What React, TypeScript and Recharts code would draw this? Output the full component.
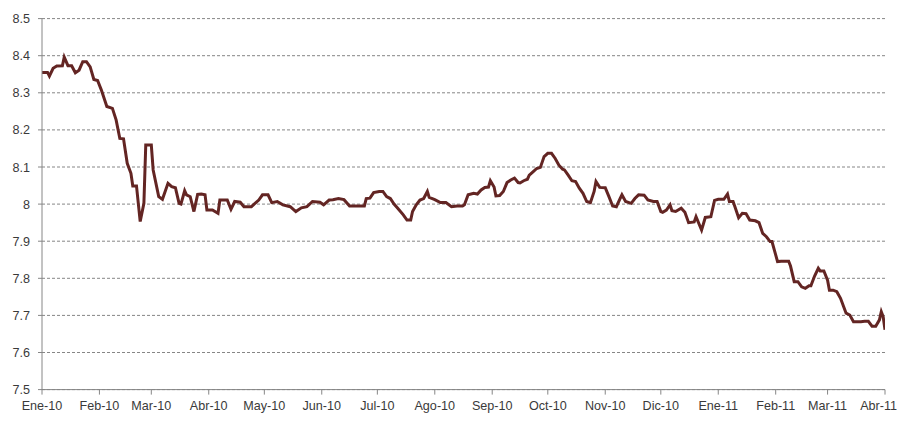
import { CartesianGrid, Line, LineChart, XAxis, YAxis } from "recharts";

// Month labels shown on the x axis (Spanish abbreviations, as in the source)
const monthLabels = [
  "Ene-10", "Feb-10", "Mar-10", "Abr-10", "May-10", "Jun-10", "Jul-10", "Ago-10",
  "Sep-10", "Oct-10", "Nov-10", "Dic-10", "Ene-11", "Feb-11", "Mar-11", "Abr-11",
];

// Days elapsed since 1 Jan 2010 for each observation
const days = [
  0, 3, 4, 6, 8, 11, 12, 14, 16, 18, 20, 22, 24, 26, 28, 30, 32, 35, 38, 40,
  42, 44, 46, 48, 49, 51, 53, 55, 56, 59, 60, 63, 65, 68, 70, 72, 74, 75, 77, 78,
  80, 82, 84, 86, 88, 89, 92, 95, 96, 100, 102, 104, 107, 109, 113, 117, 119, 122, 124, 127,
  130, 134, 137, 140, 143, 146, 150, 152, 155, 157, 160, 163, 166, 169, 174, 175, 177, 179, 182, 184,
  186, 188, 190, 192, 195, 197, 199, 200, 202, 204, 206, 208, 209, 212, 215, 218, 221, 224, 227, 228,
  230, 233, 235, 237, 239, 241, 242, 244, 245, 247, 249, 251, 253, 255, 257, 258, 260, 262, 263, 265,
  267, 269, 271, 273, 275, 277, 279, 281, 282, 284, 286, 288, 290, 292, 294, 296, 298, 299, 301, 304,
  306, 308, 310, 312, 313, 315, 318, 320, 322, 325, 327, 330, 332, 334, 335, 337, 339, 340, 342, 345,
  347, 349, 352, 353, 356, 358, 361, 363, 365, 368, 370, 371, 373, 374, 376, 378, 380, 382, 385, 387,
  389, 391, 393, 394, 396, 397, 399, 403, 404, 406, 408, 410, 412, 414, 415, 417, 419, 420, 422, 424,
  425, 427, 429, 431, 433, 434, 436, 438, 442, 444, 446, 448, 450, 452, 453, 454, 455,
];

// Observed values
const rates = [
  8.355, 8.355, 8.345, 8.366, 8.372, 8.373, 8.396, 8.373, 8.373, 8.354, 8.361, 8.384, 8.384, 8.37, 8.336, 8.333, 8.308, 8.263, 8.258, 8.227,
  8.177, 8.176, 8.11, 8.083, 8.049, 8.049, 7.953, 8.002, 8.159, 8.159, 8.092, 8.02, 8.013, 8.056, 8.047, 8.044, 8.002, 8.0, 8.036, 8.025,
  8.02, 7.98, 8.026, 8.027, 8.025, 7.984, 7.984, 7.975, 8.011, 8.011, 7.986, 8.007, 8.005, 7.993, 7.993, 8.011, 8.025, 8.025, 8.004, 8.007,
  7.998, 7.993, 7.98, 7.99, 7.993, 8.007, 8.005, 7.998, 8.011, 8.012, 8.015, 8.012, 7.995, 7.995, 7.995, 8.015, 8.016, 8.031, 8.034, 8.034,
  8.02, 8.015, 8.0, 7.989, 7.971, 7.957, 7.957, 7.98, 7.998, 8.011, 8.015, 8.034, 8.018, 8.012, 8.004, 8.004, 7.993, 7.995, 7.995, 7.998,
  8.025, 8.029, 8.027, 8.038, 8.045, 8.046, 8.063, 8.046, 8.022, 8.023, 8.034, 8.058, 8.065, 8.07, 8.058, 8.057, 8.063, 8.067, 8.078, 8.087,
  8.096, 8.099, 8.128, 8.137, 8.137, 8.123, 8.105, 8.094, 8.092, 8.078, 8.063, 8.061, 8.043, 8.029, 8.007, 8.004, 8.034, 8.061, 8.045, 8.044,
  8.02, 7.995, 7.993, 8.015, 8.025, 8.007, 8.002, 8.015, 8.025, 8.024, 8.011, 8.007, 8.007, 7.98, 7.978, 7.984, 7.998, 7.982, 7.98, 7.989,
  7.978, 7.95, 7.952, 7.966, 7.93, 7.964, 7.966, 8.01, 8.013, 8.013, 8.027, 8.007, 8.007, 7.993, 7.963, 7.975, 7.974, 7.957, 7.955, 7.95,
  7.921, 7.912, 7.899, 7.899, 7.863, 7.845, 7.846, 7.846, 7.833, 7.791, 7.791, 7.777, 7.773, 7.78, 7.78, 7.806, 7.827, 7.82, 7.82, 7.795,
  7.768, 7.768, 7.764, 7.746, 7.719, 7.706, 7.701, 7.683, 7.683, 7.684, 7.684, 7.671, 7.671, 7.688, 7.71, 7.697, 7.661,
];

const yTicks = [7.5, 7.6, 7.7, 7.8, 7.9, 8, 8.1, 8.2, 8.3, 8.4, 8.5];

// first day of every labelled month, as an offset from 1 Jan 2010
const DAY_MS = 86400000;
const monthStarts = monthLabels.map((_, i) =>
  Math.round((Date.UTC(2010, i, 1) - Date.UTC(2010, 0, 1)) / DAY_MS)
);

const data = days.map((d, i) => ({ day: d, rate: rates[i] }));

const AXIS = "#868686";
const FAMILY = "'Liberation Sans', Arial, sans-serif";
const TEXT = "#3a3a3a";

// plain svg text; the last label is right-aligned so it is not cut at the page edge
const MonthTick = (props: any) => {
  const { x, y, payload } = props;
  const idx = monthStarts.indexOf(payload.value);
  const last = idx === monthLabels.length - 1;
  return (
    <text
      x={last ? x + 12 : x}
      y={y + 13}
      textAnchor={last ? "end" : "middle"}
      fill={TEXT}
      fontFamily={FAMILY}
      fontSize={12.6}
    >
      {monthLabels[idx] ?? ""}
    </text>
  );
};

const ValueTick = (props: any) => {
  const { x, y, payload } = props;
  return (
    <text x={x} y={y + 4.5} textAnchor="end" fill={TEXT} fontFamily={FAMILY} fontSize={12.6}>
      {String(Number(Number(payload.value).toFixed(1)))}
    </text>
  );
};

export default function App() {
  return (
    <LineChart
      width={897}
      height={405}
      data={data}
      style={{ overflow: "visible" }}
      margin={{ top: 10.6, right: 20, bottom: 1.4, left: 0 }}
    >
      <CartesianGrid vertical={false} stroke={AXIS} strokeDasharray="3 2" />
      <XAxis
        dataKey="day"
        type="number"
        domain={[0, 455]}
        ticks={monthStarts}
        interval={0}
        height={22}
        stroke={AXIS}
        tickSize={5}
        tickMargin={2}
        tick={MonthTick}
        allowDataOverflow
      />
      <YAxis
        domain={[7.5, 8.5]}
        ticks={yTicks}
        interval={0}
        width={34}
        stroke={AXIS}
        tickSize={4}
        tickMargin={8}
        tick={ValueTick}
        allowDataOverflow
      />
      <Line
        type="linear"
        dataKey="rate"
        stroke="#632523"
        strokeWidth={3}
        dot={false}
        isAnimationActive={false}
      />
    </LineChart>
  );
}
